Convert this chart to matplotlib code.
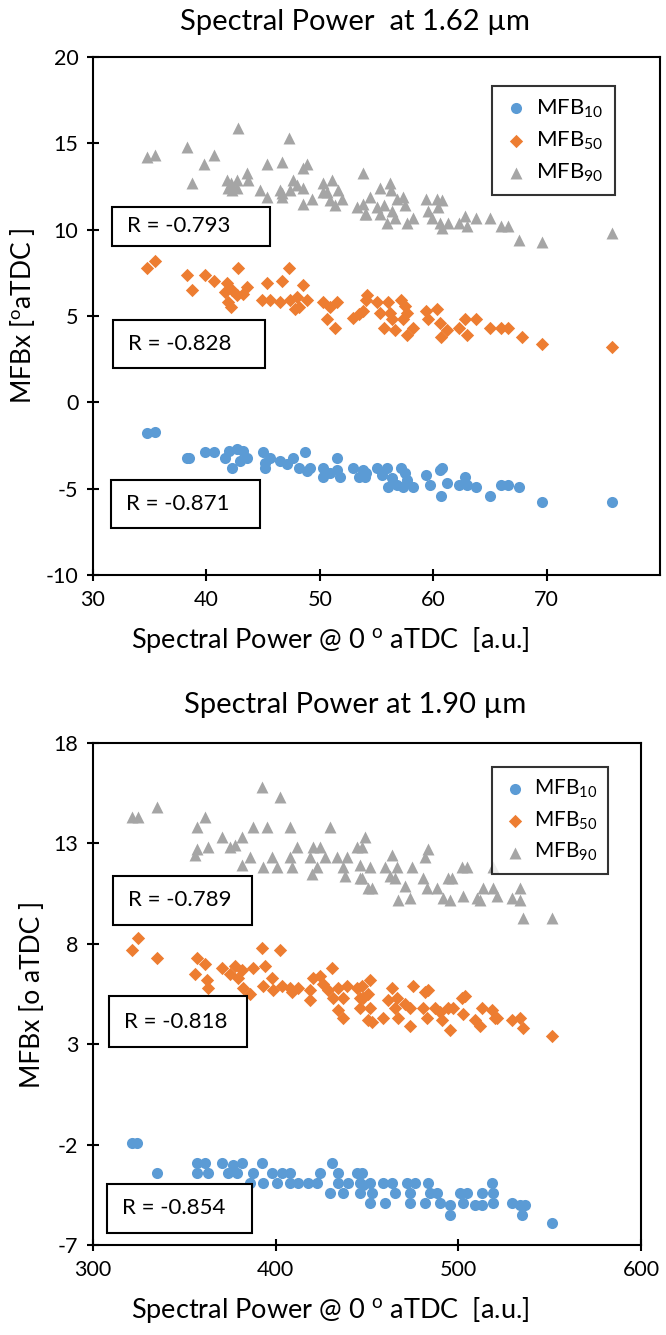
import matplotlib
matplotlib.use("Agg")
import matplotlib.pyplot as plt
from matplotlib.patches import Rectangle

plt.rcParams["font.family"] = ["Lato", "DejaVu Sans"]
plt.rcParams["mathtext.default"] = "regular"
plt.rcParams["axes.unicode_minus"] = False

BLUE = "#5B9BD5"
ORANGE = "#ED7D31"
GRAY = "#A5A5A5"

# ---- data: (spectral power, MFBx) pairs ----
# 1.62 um panel
top_mfb10 = [
  (34.8, -1.8), (35.5, -1.7), (38.3, -3.2), (38.5, -3.2), (39.9, -2.9), (40.7, -2.9), (41.6, -3.2),
  (42.0, -2.8), (42.7, -2.7), (43.2, -2.8), (43.6, -3.2), (42.3, -3.8), (43.0, -3.4), (45.0, -2.9),
  (45.2, -3.5), (45.6, -3.2), (45.2, -3.8), (46.5, -3.4), (47.1, -3.6), (47.6, -3.2), (48.2, -3.8),
  (48.7, -2.9), (48.9, -4.0), (49.1, -3.8), (50.3, -3.8), (50.3, -4.3), (50.9, -4.1), (51.5, -3.2),
  (51.5, -3.9), (51.8, -4.3), (52.9, -3.8), (53.5, -4.3), (54.1, -4.1), (53.8, -3.9), (54.0, -4.3),
  (55.0, -3.8), (55.5, -4.2), (55.9, -3.8), (56.0, -4.9), (56.4, -4.4), (56.8, -4.8), (57.2, -3.8),
  (57.5, -4.1), (57.7, -4.5), (58.2, -4.9), (57.3, -4.9), (59.4, -4.2), (59.7, -4.8), (60.6, -3.9),
  (60.8, -3.8), (60.7, -5.4), (61.2, -4.7), (62.3, -4.8), (62.8, -4.3), (63.0, -4.8), (63.8, -4.9),
  (65.0, -5.4), (66.0, -4.8), (66.6, -4.8), (67.6, -4.9), (69.6, -5.8), (75.8, -5.8),
]
top_mfb50 = [
  (34.8, 7.8), (35.5, 8.2), (38.3, 7.4), (39.9, 7.4), (38.7, 6.5), (40.7, 7.0), (41.8, 6.9),
  (41.6, 6.4), (42.8, 7.8), (42.3, 6.5), (42.7, 6.2), (41.9, 5.8), (42.2, 5.5), (43.6, 6.7),
  (43.2, 6.3), (45.3, 6.9), (44.9, 5.9), (45.6, 5.9), (46.7, 7.0), (47.3, 7.8), (46.5, 5.8),
  (47.4, 5.9), (48.0, 6.1), (48.5, 6.8), (48.2, 5.5), (48.9, 5.9), (47.8, 5.4), (50.3, 5.8),
  (50.9, 5.5), (51.5, 5.8), (50.6, 4.8), (51.3, 4.3), (52.9, 4.9), (53.5, 5.1), (54.1, 5.9),
  (54.2, 6.2), (53.8, 5.3), (55.0, 5.8), (55.3, 5.2), (56.0, 5.8), (56.2, 5.2), (55.7, 4.3),
  (56.4, 4.8), (56.6, 4.2), (57.2, 5.9), (57.5, 5.6), (57.7, 5.2), (57.3, 4.8), (57.7, 3.9),
  (58.2, 4.3), (59.4, 5.3), (60.3, 5.4), (59.5, 4.8), (60.6, 4.6), (60.7, 3.8), (61.2, 4.2),
  (62.3, 4.3), (62.8, 4.8), (63.0, 3.9), (63.8, 4.8), (65.0, 4.3), (66.0, 4.3), (66.6, 4.3),
  (67.8, 3.8), (69.6, 3.4), (75.8, 3.2),
]
top_mfb90 = [
  (34.8, 14.2), (35.5, 14.3), (38.3, 14.8), (42.8, 15.9), (47.3, 15.3), (40.7, 14.3), (39.8, 13.8),
  (38.7, 12.7), (41.8, 12.9), (42.2, 12.7), (42.7, 12.9), (43.6, 13.3), (43.7, 12.9), (41.9, 12.4),
  (42.7, 12.4), (42.3, 12.3), (45.3, 13.8), (46.7, 13.9), (48.9, 13.8), (48.5, 13.6), (44.7, 12.3),
  (45.3, 11.9), (46.5, 12.3), (46.7, 11.9), (46.7, 12.1), (47.6, 12.9), (48.0, 12.6), (48.5, 12.4),
  (47.4, 12.3), (48.5, 11.5), (49.3, 11.8), (50.3, 12.7), (51.1, 12.9), (51.6, 12.3), (50.6, 12.2),
  (50.9, 11.7), (51.3, 11.4), (52.0, 11.8), (50.3, 12.2), (53.8, 13.3), (53.3, 11.3), (54.0, 10.9),
  (55.3, 12.4), (56.2, 12.7), (56.3, 12.3), (54.4, 11.9), (53.8, 11.5), (54.1, 10.9), (55.0, 11.3),
  (55.3, 10.9), (55.7, 11.4), (55.9, 10.4), (56.6, 10.7), (56.8, 11.8), (57.3, 11.9), (57.5, 11.4),
  (57.7, 10.4), (58.2, 10.7), (56.4, 11.1), (59.4, 11.8), (60.3, 11.8), (60.8, 11.7), (59.5, 11.1),
  (59.9, 10.7), (60.6, 10.4), (60.8, 10.1), (61.3, 10.4), (60.4, 11.3), (62.8, 10.8), (62.3, 10.4),
  (63.0, 10.2), (63.8, 10.7), (65.0, 10.7), (66.0, 10.2), (66.6, 10.2), (67.6, 9.4), (69.6, 9.3),
  (75.8, 9.8),
]
top_r = ["R = -0.793", "R = -0.828", "R = -0.871"]

# 1.90 um panel
bot_mfb10 = [
  (321.3, -1.9), (324.1, -1.9), (335.0, -3.4), (356.9, -2.9), (361.3, -2.9), (356.9, -3.4),
  (362.9, -3.4), (370.6, -2.9), (373.9, -3.4), (376.6, -3.0), (381.6, -2.9), (378.8, -3.4),
  (387.6, -3.4), (385.9, -3.9), (392.5, -2.9), (393.0, -3.9), (398.0, -3.4), (400.7, -3.9),
  (403.4, -3.4), (407.8, -3.4), (407.8, -3.9), (412.2, -3.9), (417.7, -3.9), (422.6, -3.9),
  (424.2, -3.4), (430.8, -2.9), (429.7, -4.4), (434.1, -3.4), (434.1, -3.9), (436.8, -4.4),
  (439.6, -3.9), (444.5, -3.4), (446.1, -3.9), (446.1, -4.4), (451.6, -4.9), (447.2, -3.4),
  (447.8, -4.0), (451.6, -3.9), (452.7, -4.4), (458.7, -3.9), (459.8, -4.9), (463.7, -3.9),
  (465.3, -4.4), (471.9, -3.9), (473.5, -4.4), (473.5, -4.9), (476.2, -3.9), (481.7, -4.9),
  (483.4, -3.9), (484.5, -4.4), (488.3, -4.4), (489.9, -4.9), (495.4, -5.0), (495.4, -5.5),
  (500.9, -4.4), (502.5, -4.9), (504.7, -4.4), (509.1, -5.0), (512.9, -4.4), (512.9, -5.0),
  (518.4, -3.9), (518.9, -4.4), (518.9, -4.9), (529.3, -4.9), (533.7, -5.0), (534.8, -5.5),
  (536.5, -5.0), (551.2, -5.9),
]
bot_mfb50 = [
  (324.6, 8.3), (321.3, 7.7), (335.0, 7.3), (356.9, 7.3), (361.3, 7.0), (355.8, 6.5), (362.4, 6.2),
  (362.9, 5.8), (370.6, 6.8), (375.0, 6.5), (377.7, 6.9), (379.4, 6.3), (381.6, 6.7), (382.1, 5.8),
  (385.9, 5.5), (387.6, 6.8), (392.5, 7.8), (394.1, 6.9), (402.4, 7.7), (393.0, 5.9), (398.0, 6.3),
  (398.5, 5.7), (403.4, 5.9), (407.8, 5.8), (408.9, 5.6), (412.2, 5.8), (418.8, 5.7), (418.8, 5.2),
  (420.4, 6.3), (424.2, 6.4), (425.9, 6.0), (430.8, 6.8), (428.6, 5.7), (431.4, 5.3), (434.1, 5.8),
  (439.0, 5.9), (436.8, 5.3), (434.1, 4.7), (436.8, 4.3), (444.5, 5.8), (446.1, 5.3), (446.1, 4.8),
  (450.5, 5.5), (450.5, 4.2), (447.2, 5.9), (451.6, 6.2), (447.8, 5.3), (451.6, 4.8), (452.7, 4.1),
  (458.7, 4.3), (463.7, 5.8), (461.5, 5.2), (466.4, 5.3), (465.3, 4.8), (466.9, 4.3), (470.8, 5.0),
  (473.5, 4.8), (473.5, 3.9), (475.2, 5.9), (481.7, 5.6), (483.4, 5.7), (480.6, 4.8), (482.8, 4.3),
  (487.2, 4.8), (489.9, 4.6), (491.0, 4.2), (495.4, 3.7), (494.3, 4.8), (497.0, 4.8), (501.9, 5.3),
  (503.6, 5.4), (502.5, 4.5), (509.1, 4.2), (511.8, 3.9), (512.9, 4.8), (518.4, 4.7), (520.0, 4.3),
  (521.1, 4.3), (529.3, 4.2), (533.7, 4.3), (535.4, 3.8), (551.2, 3.4),
]
bot_mfb90 = [
  (321.3, 14.3), (324.6, 14.3), (335.0, 14.8), (361.3, 14.3), (356.9, 13.8), (356.9, 12.7),
  (355.8, 12.4), (362.9, 12.8), (370.6, 13.3), (375.0, 12.8), (377.7, 12.9), (381.6, 13.3),
  (387.6, 13.8), (395.2, 13.8), (392.5, 15.8), (402.4, 15.3), (407.8, 13.8), (429.7, 13.8),
  (381.6, 11.9), (385.9, 12.3), (393.0, 11.8), (398.0, 12.3), (400.7, 11.8), (407.8, 12.3),
  (411.7, 12.8), (408.9, 11.8), (418.8, 12.3), (420.4, 12.8), (424.2, 12.8), (422.6, 11.8),
  (419.9, 11.5), (427.0, 12.3), (433.6, 12.3), (436.8, 11.8), (439.0, 12.3), (437.9, 11.4),
  (444.5, 12.8), (446.1, 11.9), (446.1, 11.3), (448.9, 13.3), (450.5, 10.8), (447.2, 12.8),
  (451.6, 11.8), (447.2, 11.3), (452.7, 10.8), (459.8, 11.8), (463.7, 12.4), (462.6, 11.4),
  (466.4, 11.8), (465.3, 11.3), (470.8, 10.9), (466.9, 10.2), (474.6, 11.8), (473.5, 10.3),
  (480.6, 11.3), (483.4, 12.7), (481.7, 12.3), (482.8, 10.8), (488.3, 10.8), (491.6, 10.3),
  (494.3, 11.3), (496.5, 11.3), (495.4, 10.2), (501.9, 11.8), (504.7, 11.8), (502.5, 10.4),
  (510.2, 10.3), (513.5, 10.8), (511.8, 10.2), (518.9, 11.8), (518.9, 10.8), (521.1, 10.4),
  (529.3, 10.3), (533.7, 10.8), (533.7, 10.2), (535.4, 9.3), (551.2, 9.3),
]
bot_r = ["R = -0.789", "R = -0.818", "R = -0.854"]

labels = ["MFB$_{10}$", "MFB$_{50}$", "MFB$_{90}$"]

W, H = 666, 1335


def fx(px):
  return px / W


def fy(py):
  return 1 - py / H


def draw_panel(fig, box, series, xlim, xticks, ylim, yticks, ylabel, r_boxes, r_texts, leg_anchor, leg_fs):
  left, top, right, bottom = box
  ax = fig.add_axes([fx(left), fy(bottom), fx(right) - fx(left), (bottom - top) / H])
  for pts, color, marker, size, lab in series:
    xs = [p[0] for p in pts]
    ys = [p[1] for p in pts]
    ax.scatter(xs, ys, s=size, c=color, marker=marker, label=lab, linewidths=0, zorder=3)
  ax.set_xlim(*xlim)
  ax.set_ylim(*ylim)
  ax.set_xticks(xticks)
  ax.set_yticks(yticks)
  for sp in ax.spines.values():
    sp.set_linewidth(1.5)
    sp.set_color("black")
  ax.tick_params(direction="inout", length=9, width=1.5, labelsize=15.5, pad=6)
  ax.set_ylabel(ylabel, fontsize=19, labelpad=6)
  leg = ax.legend(loc="upper right", bbox_to_anchor=leg_anchor, fontsize=leg_fs, frameon=True,
                  fancybox=False, handletextpad=0.3, handlelength=1.2, borderpad=0.5,
                  labelspacing=0.45, markerscale=1.0)
  leg.get_frame().set_edgecolor("black")
  leg.get_frame().set_linewidth(1.5)
  for (x0, y0, x1, y1), txt in zip(r_boxes, r_texts):
    fig.patches.append(Rectangle((fx(x0), fy(y1)), fx(x1) - fx(x0), (y1 - y0) / H,
                                 transform=fig.transFigure, fill=True, facecolor="white",
                                 edgecolor="black", linewidth=1.5, zorder=5))
    fig.text(fx(x0 + 15), fy((y0 + y1) / 2), txt, fontsize=16, va="center", ha="left", zorder=6)
  return ax


fig = plt.figure(figsize=(6.66, 13.35), dpi=100)

draw_panel(
  fig, (93, 57, 660, 575),
  [(top_mfb10, BLUE, "o", 64, labels[0]),
   (top_mfb50, ORANGE, "D", 46, labels[1]),
   (top_mfb90, GRAY, "^", 74, labels[2])],
  (30, 80), [30, 40, 50, 60, 70], (-10, 20), [-10, -5, 0, 5, 10, 15, 20],
  "MFBx [$^{o}$aTDC ]",
  [(112, 207, 270, 246), (113, 320, 265, 368), (111, 480, 260, 528)], top_r,
  ((626 - 93) / 567, (575 - 75) / 518), 16,
)
fig.text(fx(355), fy(22), "Spectral Power  at 1.62 \u00b5m", fontsize=21, ha="center", va="center")
fig.text(fx(330), fy(640), "Spectral Power @ 0 $^{o}$ aTDC  [a.u.]", fontsize=19.5, ha="center", va="center")

draw_panel(
  fig, (93, 743, 641, 1245),
  [(bot_mfb10, BLUE, "o", 64, labels[0]),
   (bot_mfb50, ORANGE, "D", 46, labels[1]),
   (bot_mfb90, GRAY, "^", 74, labels[2])],
  (300, 600), [300, 400, 500, 600], (-7, 18), [-7, -2, 3, 8, 13, 18],
  "MFBx [o aTDC ]",
  [(113, 876, 252, 925), (109, 996, 247, 1047), (107, 1184, 252, 1233)], bot_r,
  ((618 - 93) / 548, (1245 - 757) / 502), 15,
)
fig.text(fx(355), fy(705), "Spectral Power at 1.90 \u00b5m", fontsize=21, ha="center", va="center")
fig.text(fx(330), fy(1310), "Spectral Power @ 0 $^{o}$ aTDC  [a.u.]", fontsize=19.5, ha="center", va="center")

fig.savefig("out.png", dpi=100)
